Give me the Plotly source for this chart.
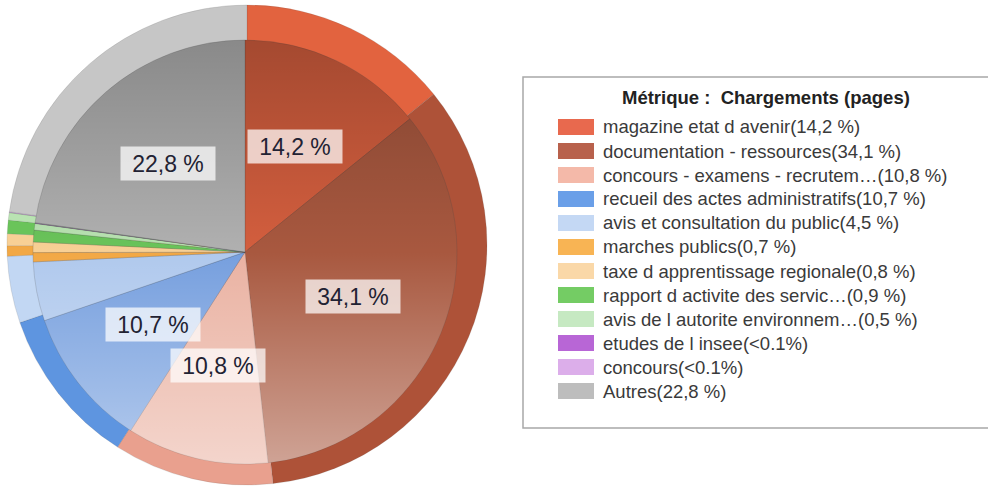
import base64
import math
import plotly.graph_objects as go

# data
labels = ["magazine etat d avenir", "documentation - ressources", "concours - examens - recrutem…",
          "recueil des actes administratifs", "avis et consultation du public", "marches publics",
          "taxe d apprentissage regionale", "rapport d activite des servic…", "avis de l autorite environnem…",
          "etudes de l insee", "concours", "Autres"]
values = [14.2, 34.1, 10.8, 10.7, 4.5, 0.7, 0.8, 0.9, 0.5, 0.03, 0.03, 22.8]
pct_text = ["14,2 %", "34,1 %", "10,8 %", "10,7 %", "4,5 %", "0,7 %", "0,8 %", "0,9 %", "0,5 %",
            "<0.1%", "<0.1%", "22,8 %"]
legend_title = "Métrique :\u00a0 Chargements (pages)"

# colours
face_colors = ["#D35E3E", "#A8583F", "#EAB2A2", "#769FDE", "#B0C9ED", "#F2A845",
               "#F8D095", "#6AC45A", "#B9E3B2", "#B060D0", "#D8A8E8", "#B0B0B0"]
rim_colors = ["#E2633F", "#AE5238", "#E9A08E", "#5E95E0", "#C2D7F3", "#F2A845",
              "#F8D095", "#6AC45A", "#B9E3B2", "#B060D0", "#D8A8E8", "#C6C6C6"]
legend_colors = ["#E8694E", "#B8614C", "#F4B9A9", "#6A9FE8", "#C4D8F4", "#F8B454",
                 "#FAD8A8", "#74CC64", "#C6E9C2", "#B866D6", "#DCAEEA", "#BDBDBD"]

W, H = 988, 486
FONT = "Liberation Sans, Arial, sans-serif"


def px(x):
    return x / W


def py(y):
    return 1 - y / H


# pie geometry (pixels)
rim_cx, rim_cy, rim_r = 247, 245, 240
face_cx, face_cy, face_r = 245, 252, 212

fig = go.Figure()
fig.add_trace(go.Pie(
    values=values, labels=labels, sort=False, direction="clockwise",
    marker=dict(colors=rim_colors, line=dict(color="rgba(90,90,90,0.25)", width=0.6)),
    textinfo="none", hoverinfo="label+percent", showlegend=False,
    domain=dict(x=[px(rim_cx - rim_r), px(rim_cx + rim_r)], y=[py(rim_cy + rim_r), py(rim_cy - rim_r)]),
))
fig.add_trace(go.Pie(
    values=values, labels=labels, sort=False, direction="clockwise",
    marker=dict(colors=face_colors, line=dict(color="rgba(70,70,70,0.3)", width=0.7)),
    textinfo="none", hoverinfo="label+percent", showlegend=False,
    domain=dict(x=[px(face_cx - face_r), px(face_cx + face_r)], y=[py(face_cy + face_r), py(face_cy - face_r)]),
))

# vertical shading on the pie face
d = 2 * face_r
svg = (f'<svg xmlns="http://www.w3.org/2000/svg" width="{d}" height="{d}" viewBox="0 0 {d} {d}">'
       '<defs><linearGradient id="g" x1="0" y1="0" x2="0" y2="1">'
       '<stop offset="0" stop-color="#000" stop-opacity="0.22"/>'
       '<stop offset="0.5" stop-color="#000" stop-opacity="0"/>'
       '<stop offset="0.5" stop-color="#fff" stop-opacity="0"/>'
       '<stop offset="1" stop-color="#fff" stop-opacity="0.45"/>'
       '</linearGradient></defs>'
       f'<circle cx="{face_r}" cy="{face_r}" r="{face_r}" fill="url(#g)"/></svg>')
src = "data:image/svg+xml;base64," + base64.b64encode(svg.encode()).decode()
fig.add_layout_image(dict(source=src, xref="paper", yref="paper",
                          x=px(face_cx - face_r), y=py(face_cy - face_r),
                          sizex=d / W, sizey=d / H, xanchor="left", yanchor="top",
                          sizing="stretch", layer="above"))

# percentage labels inside the large slices
total = sum(values)
cum = 0
for v, t in zip(values, pct_text):
    mid = (cum + v / 2) / total * 2 * math.pi
    cum += v
    if v / total < 0.05:
        continue
    lx = face_cx + 117 * math.sin(mid)
    ly = face_cy - 117 * math.cos(mid)
    fig.add_annotation(x=px(lx), y=py(ly), xref="paper", yref="paper", text=t, showarrow=False,
                       xanchor="center", yanchor="middle",
                       font=dict(family=FONT, size=23, color="#222233"),
                       bgcolor="rgba(255,255,255,0.72)", width=88, height=27, borderpad=3)

# legend box
fig.add_shape(type="rect", xref="paper", yref="paper", x0=px(523), x1=px(995), y0=py(428), y1=py(77),
              line=dict(color="#A8A8A8", width=1.5), fillcolor="white", layer="below")
fig.add_annotation(x=px(766), y=py(98), xref="paper", yref="paper", text="<b>" + legend_title + "</b>",
                   showarrow=False, xanchor="center", yanchor="middle",
                   font=dict(family=FONT, size=18.5, color="#222222"))
for i, (name, t, c) in enumerate(zip(labels, pct_text, legend_colors)):
    yc = 127 + 24 * i
    fig.add_shape(type="rect", xref="paper", yref="paper", x0=px(558), x1=px(594),
                  y0=py(yc + 8), y1=py(yc - 8), line=dict(width=0), fillcolor=c, layer="above")
    fig.add_annotation(x=px(601), y=py(yc), xref="paper", yref="paper", text=f"{name}({t})",
                       showarrow=False, xanchor="left", yanchor="middle",
                       font=dict(family=FONT, size=18.5, color="#3A3A3A"))

fig.update_layout(width=W, height=H, margin=dict(l=0, r=0, t=0, b=0),
                  paper_bgcolor="white", plot_bgcolor="white", showlegend=False)
fig.write_html("out.html", config={"displayModeBar": False},
               post_script="document.body.style.margin = '0px';")
